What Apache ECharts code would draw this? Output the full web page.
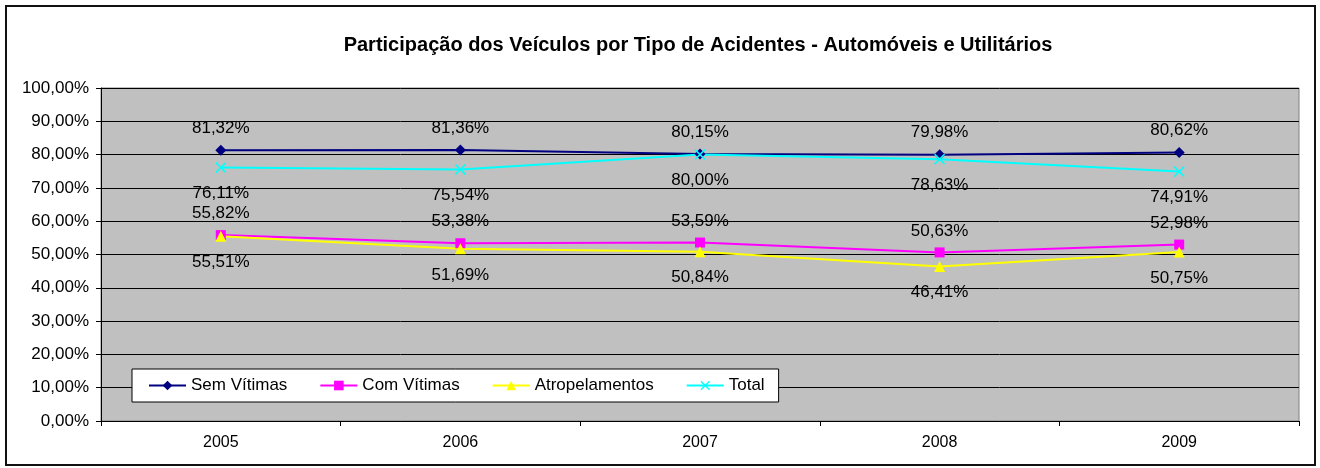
<!DOCTYPE html>
<html>
<head>
<meta charset="utf-8">
<script src="https://cdn.jsdelivr.net/npm/echarts@6/dist/echarts.min.js"></script>
<style>
  html, body { margin: 0; padding: 0; background: #fff; }
  #chart { width: 1320px; height: 468px; }
</style>
</head>
<body>
<div id="chart"></div>
<script>
// Categories (years)
const years = ['2005', '2006', '2007', '2008', '2009'];

// Share of cars and utility vehicles by accident type (%)
const semVitimas     = [81.32, 81.36, 80.15, 79.98, 80.62];
const comVitimas     = [55.82, 53.38, 53.59, 50.63, 52.98];
const atropelamentos = [55.51, 51.69, 50.84, 46.41, 50.75];
const total          = [76.11, 75.54, 80.00, 78.63, 74.91];

const seriesNames = ['Sem Vítimas', 'Com Vítimas', 'Atropelamentos', 'Total'];
const titleText = 'Participação dos Veículos por Tipo de Acidentes - Automóveis e Utilitários';

const FONT = 'Arial, "Liberation Sans", sans-serif';
const fmt = v => Number(v).toFixed(2).replace('.', ',') + '%';

// Cross marker drawn as a filled "x" outline
const crossPath = 'path://M0,1 L1,0 L5,4 L9,0 L10,1 L6,5 L10,9 L9,10 L5,6 L1,10 L0,9 L4,5 Z';

function lineSeries(name, data, color, symbol, size, labelPos, dist) {
  return {
    name: name,
    type: 'line',
    data: data,
    symbol: symbol,
    symbolSize: size,
    showAllSymbol: true,
    lineStyle: { color: color, width: 2 },
    itemStyle: { color: color },
    emphasis: { disabled: true },
    label: {
      show: true,
      position: labelPos,
      distance: dist,
      formatter: p => fmt(p.value),
      color: '#000',
      fontFamily: FONT,
      fontSize: 17
    },
    animation: false
  };
}

const chart = echarts.init(document.getElementById('chart'), null, { renderer: 'canvas' });

chart.setOption({
  animation: false,
  backgroundColor: '#fff',
  title: {
    text: titleText,
    left: 693,
    top: 30,
    textAlign: 'center',
    textStyle: { fontFamily: FONT, fontSize: 20, fontWeight: 'bold', color: '#000' }
  },
  graphic: [{
    type: 'rect',
    shape: { x: 6, y: 6, width: 1309, height: 459 },
    style: { fill: 'none', stroke: '#111', lineWidth: 2 },
    silent: true,
    z: -1
  }],
  legend: {
    data: seriesNames,
    left: 132,
    top: 369,
    orient: 'horizontal',
    backgroundColor: '#fff',
    borderColor: '#000',
    borderWidth: 1,
    padding: [8, 14, 8, 16],
    itemGap: 32,
    itemWidth: 37,
    itemHeight: 12,
    textStyle: { fontFamily: FONT, fontSize: 17, color: '#000' },
    selectedMode: false
  },
  grid: {
    left: 101,
    right: 21,
    top: 88,
    bottom: 47,
    show: true,
    backgroundColor: '#C0C0C0',
    borderColor: '#808080',
    borderWidth: 1
  },
  xAxis: {
    type: 'category',
    data: years,
    boundaryGap: true,
    axisLine: { lineStyle: { color: '#000', width: 1 } },
    axisTick: { show: true, alignWithLabel: false, inside: false, length: 5, lineStyle: { color: '#000' } },
    axisLabel: { fontFamily: FONT, fontSize: 16, color: '#000', margin: 14 },
    splitLine: { show: false }
  },
  yAxis: {
    type: 'value',
    min: 0,
    max: 100,
    interval: 10,
    axisLine: { show: true, lineStyle: { color: '#000', width: 1 } },
    axisTick: { show: true, inside: false, length: 5, lineStyle: { color: '#000' } },
    axisLabel: { fontFamily: FONT, fontSize: 17, color: '#000', margin: 12, formatter: v => fmt(v) },
    splitLine: { show: true, lineStyle: { color: '#000', width: 1 } }
  },
  series: [
    lineSeries(seriesNames[0], semVitimas, '#000080', 'diamond', 11, 'top', 8),
    lineSeries(seriesNames[1], comVitimas, '#FF00FF', 'rect', 10, 'top', 8),
    lineSeries(seriesNames[2], atropelamentos, '#FFFF00', 'triangle', 11, 'bottom', 12),
    lineSeries(seriesNames[3], total, '#00FFFF', crossPath, 11, 'bottom', 12)
  ]
});
</script>
</body>
</html>
